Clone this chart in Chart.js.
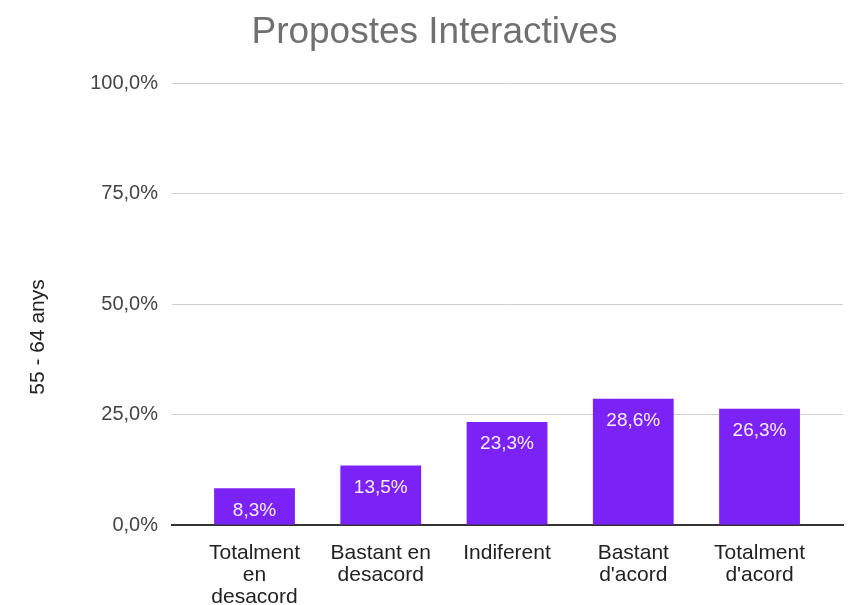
<!DOCTYPE html>
<html>
<head>
<meta charset="utf-8">
<script src="https://cdn.jsdelivr.net/npm/chart.js@4.4.1/dist/chart.umd.min.js"></script>
<style>
  html, body { margin: 0; padding: 0; background: #fff; }
  #wrap { width: 848px; height: 605px; }
</style>
</head>
<body>
<div id="wrap"><canvas id="grafic" width="848" height="605"></canvas></div>
<script>
// Dades llegides del gràfic
var categories = [
  ['Totalment', 'en', 'desacord'],
  ['Bastant en', 'desacord'],
  ['Indiferent'],
  ['Bastant', "d'acord"],
  ['Totalment', "d'acord"]
];
var valors = [8.3, 13.5, 23.3, 28.6, 26.3];
var ticksY = [0, 25, 50, 75, 100];
var titol = 'Propostes Interactives';
var titolY = '55 - 64 anys';

var FONT = '"Liberation Sans", Arial, sans-serif';
var LILA = '#7b22f7';

// format català : 25,0%
function formatPct(v) {
  return v.toFixed(1).replace('.', ',') + '%';
}

// Etiquetes blanques dins de les barres
var etiquetesBarres = {
  id: 'etiquetesBarres',
  afterDatasetsDraw: function(chart) {
    var ctx = chart.ctx;
    var meta = chart.getDatasetMeta(0);
    ctx.save();
    ctx.font = '19px ' + FONT;
    ctx.fillStyle = '#f6ecff';
    ctx.textAlign = 'center';
    ctx.textBaseline = 'middle';
    meta.data.forEach(function(barra, i) {
      ctx.fillText(formatPct(valors[i]), barra.x, barra.y + 22);
    });
    ctx.restore();
  }
};

// Títol de l'eix vertical (no centrat sobre l'àrea)
var titolEixY = {
  id: 'titolEixY',
  afterDraw: function(chart) {
    var ctx = chart.ctx;
    ctx.save();
    ctx.translate(38, 337);
    ctx.rotate(-Math.PI / 2);
    ctx.font = '21px ' + FONT;
    ctx.fillStyle = '#222';
    ctx.textAlign = 'center';
    ctx.textBaseline = 'middle';
    ctx.fillText(titolY, 0, 0);
    ctx.restore();
  }
};

var grafic = new Chart(document.getElementById('grafic').getContext('2d'), {
  type: 'bar',
  data: {
    datasets: [{
      data: valors.map(function(v, i) { return { x: i, y: v }; }),
      backgroundColor: LILA,
      borderWidth: 0,
      barPercentage: 0.8,
      categoryPercentage: 0.8
    }]
  },
  options: {
    responsive: false,
    animation: false,
    // marge esquerre per descentrar el títol com a l'original
    layout: { padding: { left: 26, right: 5, top: 0, bottom: 0 } },
    plugins: {
      legend: { display: false },
      tooltip: { enabled: false },
      title: {
        display: true,
        text: titol,
        color: '#707070',
        font: { family: FONT, size: 37, weight: 'normal' },
        padding: { top: 11, bottom: 28 }
      }
    },
    scales: {
      x: {
        type: 'linear',
        offset: false,
        min: -0.6535,
        max: 4.661,
        bounds: 'data',
        grid: { display: false },
        border: { display: true, color: '#333', width: 2 },
        afterBuildTicks: function(scale) {
          scale.ticks = categories.map(function(c, i) { return { value: i }; });
        },
        afterFit: function(scale) { scale.height = 80; },
        ticks: {
          autoSkip: false,
          maxRotation: 0,
          padding: 9,
          color: '#222',
          font: { family: FONT, size: 21, lineHeight: 1.05 },
          callback: function(v) { return categories[v]; }
        }
      },
      y: {
        min: 0,
        max: 100,
        afterBuildTicks: function(scale) {
          scale.ticks = ticksY.map(function(v) { return { value: v }; });
        },
        afterFit: function(scale) { scale.width = 146; },
        grid: { color: '#d0d0d0', lineWidth: 1, drawTicks: false },
        border: { display: false },
        ticks: {
          padding: 14,
          color: '#444',
          font: { family: FONT, size: 20 },
          callback: function(v) { return formatPct(v); }
        }
      }
    }
  },
  plugins: [etiquetesBarres, titolEixY]
});
</script>
</body>
</html>
